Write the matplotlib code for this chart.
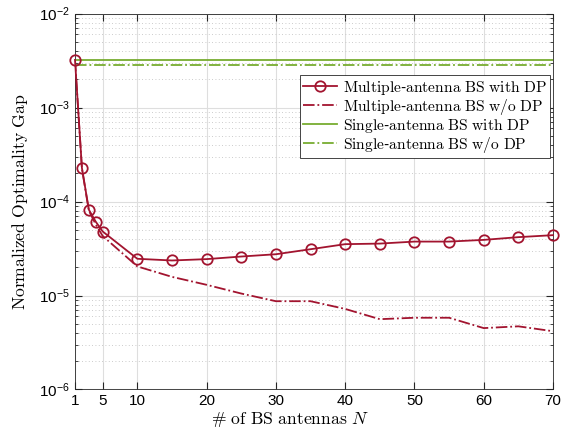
import matplotlib
matplotlib.use('Agg')
import matplotlib.pyplot as plt
from matplotlib import rcParams
from matplotlib.ticker import LogLocator, NullFormatter

rcParams['font.family'] = 'Liberation Sans'
rcParams['mathtext.fontset'] = 'cm'

# data
N = [1, 2, 3, 4, 5, 10, 15, 20, 25, 30, 35, 40, 45, 50, 55, 60, 65, 70]
multi_dp = [3.22e-3, 2.28e-4, 8.2e-5, 6.1e-5, 4.8e-5, 2.46e-5, 2.36e-5, 2.44e-5,
            2.6e-5, 2.75e-5, 3.11e-5, 3.52e-5, 3.57e-5, 3.75e-5, 3.75e-5,
            3.91e-5, 4.18e-5, 4.39e-5]
multi_nodp = [3.22e-3, 2.25e-4, 8.0e-5, 5.7e-5, 4.3e-5, 2.04e-5, 1.58e-5, 1.3e-5,
              1.05e-5, 8.7e-6, 8.7e-6, 7.2e-6, 5.6e-6, 5.8e-6, 5.8e-6,
              4.5e-6, 4.7e-6, 4.17e-6]
single_dp = 3.22e-3
single_nodp = 2.85e-3
xticks = [1, 5, 10, 20, 30, 40, 50, 60, 70]

red = '#A2142F'
green = '#77AC30'

fig = plt.figure(figsize=(5.63, 4.36), dpi=100)
ax = fig.add_axes([0.1332, 0.1067, 0.849, 0.862])

ax.plot(N, multi_dp, '-o', color=red, lw=1.3, ms=7.5, mfc='none', mew=1.3,
        clip_on=False, zorder=3,
        label=r'$\mathrm{Multiple}$-$\mathrm{antenna\ BS\ with\ DP}$')
ax.plot(N, multi_nodp, '-.', color=red, lw=1.3,
        label=r'$\mathrm{Multiple}$-$\mathrm{antenna\ BS\ w/o\ DP}$')
ax.plot([N[0], N[-1]], [single_dp, single_dp], '-', color=green, lw=1.3,
        label=r'$\mathrm{Single}$-$\mathrm{antenna\ BS\ with\ DP}$')
ax.plot([N[0], N[-1]], [single_nodp, single_nodp], '-.', color=green, lw=1.3,
        label=r'$\mathrm{Single}$-$\mathrm{antenna\ BS\ w/o\ DP}$')

ax.set_yscale('log')
ax.set_xlim(1, 70)
ax.set_ylim(1e-6, 1e-2)
ax.set_xticks(xticks)
ax.yaxis.set_major_locator(LogLocator(base=10, numticks=10))
ax.yaxis.set_minor_locator(LogLocator(base=10, subs=range(2, 10), numticks=20))
ax.yaxis.set_minor_formatter(NullFormatter())

ax.grid(True, which='major', color='#dedede', lw=0.8)
ax.grid(True, which='minor', axis='y', color='#bbbbbb', lw=0.6, ls=(0, (1, 3)))
ax.set_axisbelow(True)

ax.tick_params(which='both', direction='in', top=True, right=True,
               labelsize=11, color='#262626')
ax.tick_params(which='major', length=5)
ax.tick_params(which='minor', length=2.5)
for s in ax.spines.values():
    s.set_color('#262626')
    s.set_linewidth(0.6)

ax.set_xlabel(r'$\mathrm{\#\ of\ BS\ antennas}\ N$', fontsize=12.7)
ax.xaxis.set_label_coords(0.45, -0.055, transform=ax.transAxes)
ax.xaxis.label.set_va('top')
ax.set_ylabel(r'$\mathrm{Normalized\ Optimality\ Gap}$', fontsize=12.7)
ax.yaxis.set_label_coords(-0.094, 0.5)

leg = ax.legend(loc='upper right', bbox_to_anchor=(0.994, 0.836), fontsize=11.2,
                fancybox=False, framealpha=1, edgecolor='#262626',
                borderaxespad=0, handlelength=2.2, labelspacing=0.0,
                borderpad=0.22, handletextpad=0.35)
leg.get_frame().set_linewidth(0.6)
leg.set_zorder(5)

fig.savefig('out.png', dpi=100)
